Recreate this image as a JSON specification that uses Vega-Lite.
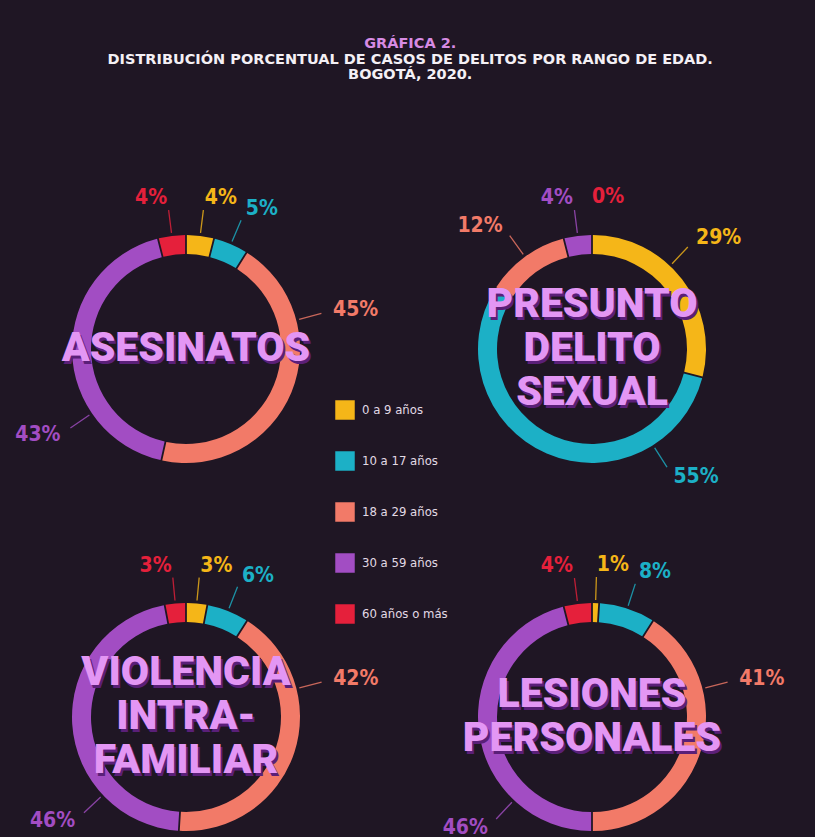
{
  "$schema": "https://vega.github.io/schema/vega-lite/v6.json",
  "background": "#1f1624",
  "padding": {"left": 0, "top": 36, "right": 37, "bottom": 0},
  "bounds": "flush",
  "title": {
    "text": "GRÁFICA 2.",
    "subtitle": ["DISTRIBUCIÓN PORCENTUAL DE CASOS DE DELITOS POR RANGO DE EDAD.", "BOGOTÁ, 2020."],
    "anchor": "middle",
    "offset": 104,
    "dx": 18,
    "font": "DejaVu Sans",
    "fontSize": 14.5,
    "fontWeight": "bold",
    "color": "#d78be3",
    "subtitleFont": "DejaVu Sans",
    "subtitleFontSize": 14.5,
    "subtitleFontWeight": "bold",
    "subtitleColor": "#f4f0f5",
    "subtitlePadding": 1,
    "subtitleLineHeight": 15
  },
  "data": {
    "values": [
      {"delito": "ASESINATOS", "edad": "0 a 9 años", "porcentaje": 4},
      {"delito": "ASESINATOS", "edad": "10 a 17 años", "porcentaje": 5},
      {"delito": "ASESINATOS", "edad": "18 a 29 años", "porcentaje": 45},
      {"delito": "ASESINATOS", "edad": "30 a 59 años", "porcentaje": 43},
      {"delito": "ASESINATOS", "edad": "60 años o más", "porcentaje": 4},
      {"delito": "PRESUNTO DELITO SEXUAL", "edad": "0 a 9 años", "porcentaje": 29},
      {"delito": "PRESUNTO DELITO SEXUAL", "edad": "10 a 17 años", "porcentaje": 55},
      {"delito": "PRESUNTO DELITO SEXUAL", "edad": "18 a 29 años", "porcentaje": 12},
      {"delito": "PRESUNTO DELITO SEXUAL", "edad": "30 a 59 años", "porcentaje": 4},
      {"delito": "PRESUNTO DELITO SEXUAL", "edad": "60 años o más", "porcentaje": 0},
      {"delito": "VIOLENCIA INTRA-FAMILIAR", "edad": "0 a 9 años", "porcentaje": 3},
      {"delito": "VIOLENCIA INTRA-FAMILIAR", "edad": "10 a 17 años", "porcentaje": 6},
      {"delito": "VIOLENCIA INTRA-FAMILIAR", "edad": "18 a 29 años", "porcentaje": 42},
      {"delito": "VIOLENCIA INTRA-FAMILIAR", "edad": "30 a 59 años", "porcentaje": 46},
      {"delito": "VIOLENCIA INTRA-FAMILIAR", "edad": "60 años o más", "porcentaje": 3},
      {"delito": "LESIONES PERSONALES", "edad": "0 a 9 años", "porcentaje": 1},
      {"delito": "LESIONES PERSONALES", "edad": "10 a 17 años", "porcentaje": 8},
      {"delito": "LESIONES PERSONALES", "edad": "18 a 29 años", "porcentaje": 41},
      {"delito": "LESIONES PERSONALES", "edad": "30 a 59 años", "porcentaje": 46},
      {"delito": "LESIONES PERSONALES", "edad": "60 años o más", "porcentaje": 4}
    ]
  },
  "facet": {
    "field": "delito",
    "type": "nominal",
    "sort": ["ASESINATOS", "PRESUNTO DELITO SEXUAL", "VIOLENCIA INTRA-FAMILIAR", "LESIONES PERSONALES"],
    "header": {"labels": false, "labelExpr": "''", "labelFontSize": 0, "labelPadding": 0, "title": null}
  },
  "columns": 2,
  "spacing": {"row": 124, "column": 34},
  "spec": {
    "width": 372,
    "height": 244,
    "transform": [
      {"stack": "porcentaje", "groupby": ["delito"], "sort": [{"field": "edad", "order": "ascending"}], "offset": "normalize", "as": ["t0", "t1"]},
      {"calculate": "min((datum.t0 + datum.t1) / 2, datum.t0 + 0.12)", "as": "ang"},
      {"calculate": "datum.porcentaje + '%'", "as": "etiqueta"}
    ],
    "layer": [
      {
        "mark": {"type": "arc", "radius": 114, "radius2": 95, "padAngle": 0.012},
        "encoding": {
          "theta": {"field": "t0", "type": "quantitative", "stack": null, "scale": {"domain": [0, 1], "range": [0, 6.283185]}},
          "theta2": {"field": "t1"},
          "color": {
            "field": "edad",
            "type": "nominal",
            "scale": {
              "domain": ["0 a 9 años", "10 a 17 años", "18 a 29 años", "30 a 59 años", "60 años o más"],
              "range": ["#f5b618", "#1cb0c6", "#f27a68", "#a24dc3", "#e5203b"]
            },
            "legend": {
              "title": null,
              "orient": "none",
              "legendX": 335,
              "legendY": 173,
              "symbolType": "square",
              "symbolSize": 380,
              "symbolStrokeWidth": 0,
              "symbolOpacity": 1,
              "labelFont": "DejaVu Sans Condensed, sans-serif",
              "labelFontSize": 13,
              "labelColor": "#e2dae5",
              "labelOffset": 7,
              "rowPadding": 31
            }
          }
        }
      },
      {
        "transform": [{"filter": "datum.porcentaje > 0"}],
        "mark": {"type": "arc", "radius": 140, "radius2": 117, "filled": false, "strokeWidth": 1.3, "opacity": 0.8},
        "encoding": {
          "theta": {"field": "ang", "type": "quantitative", "stack": null},
          "theta2": {"field": "ang"},
          "stroke": {
            "field": "edad",
            "type": "nominal",
            "scale": {
              "domain": ["0 a 9 años", "10 a 17 años", "18 a 29 años", "30 a 59 años", "60 años o más"],
              "range": ["#f5b618", "#1cb0c6", "#f27a68", "#a24dc3", "#e5203b"]
            },
            "legend": null
          }
        }
      },
      {
        "transform": [{"filter": "(datum.ang % 1) < 0.5"}],
        "mark": {"type": "text", "radius": 152, "align": "left", "baseline": "middle", "font": "DejaVu Sans Condensed, sans-serif", "fontSize": 21, "fontWeight": "bold"},
        "encoding": {
          "theta": {"field": "ang", "type": "quantitative", "stack": null},
          "text": {"field": "etiqueta", "type": "nominal"},
          "color": {"field": "edad", "type": "nominal", "legend": null}
        }
      },
      {
        "transform": [{"filter": "(datum.ang % 1) >= 0.5"}],
        "mark": {"type": "text", "radius": 152, "align": "right", "baseline": "middle", "font": "DejaVu Sans Condensed, sans-serif", "fontSize": 21, "fontWeight": "bold"},
        "encoding": {
          "theta": {"field": "ang", "type": "quantitative", "stack": null},
          "text": {"field": "etiqueta", "type": "nominal"},
          "color": {"field": "edad", "type": "nominal", "legend": null}
        }
      },
      {
        "transform": [
          {"aggregate": [{"op": "count", "as": "n"}], "groupby": ["delito"]},
          {"calculate": "split(datum.delito, regexp('(?<=-)| '))", "as": "lineas"}
        ],
        "mark": {"type": "text", "align": "center", "baseline": "middle", "dx": 2, "dy": {"expr": "3 - (length(datum.lineas) - 1) * 22"}, "font": "Roboto", "fontWeight": 900, "fontSize": 41, "lineHeight": 44, "color": "#5a1f78"},
        "encoding": {"text": {"field": "lineas", "type": "nominal"}}
      },
      {
        "transform": [
          {"aggregate": [{"op": "count", "as": "n"}], "groupby": ["delito"]},
          {"calculate": "split(datum.delito, regexp('(?<=-)| '))", "as": "lineas"}
        ],
        "mark": {"type": "text", "align": "center", "baseline": "middle", "dy": {"expr": "0 - (length(datum.lineas) - 1) * 22"}, "font": "Roboto", "fontWeight": 900, "fontSize": 41, "lineHeight": 44, "color": "#e396f4"},
        "encoding": {"text": {"field": "lineas", "type": "nominal"}}
      }
    ]
  },
  "config": {
    "view": {"stroke": null},
    "header": {"labels": false, "title": null, "labelPadding": 0, "titlePadding": 0}
  }
}
